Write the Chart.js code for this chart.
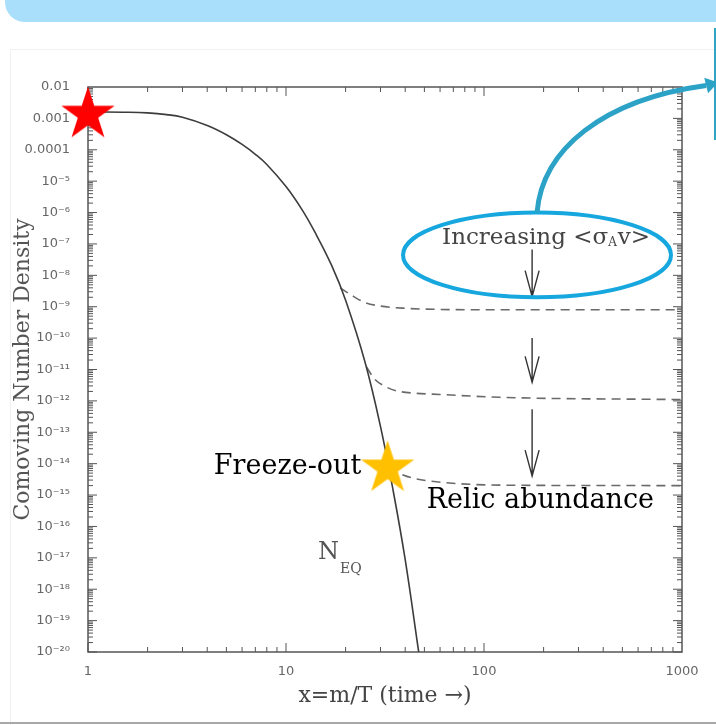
<!DOCTYPE html>
<html>
<head>
<meta charset="utf-8">
<script src="https://cdn.jsdelivr.net/npm/chart.js@4.4.0/dist/chart.umd.min.js"></script>
<style>
  html, body { margin: 0; padding: 0; background: #fff; }
  #wrap { position: relative; width: 716px; height: 725px; overflow: hidden; }
  .band { position: absolute; left: 5px; top: 0; width: 711px; height: 22px; background: #a9dffa; border-bottom-left-radius: 20px; }
  .card { position: absolute; left: 10px; top: 49px; width: 720px; height: 690px; border: 1px solid #f1f1f1; }
  .edge { position: absolute; left: 714px; top: 28px; width: 2px; height: 112px; background: #33a4c6; }
  .rule { position: absolute; left: 0; top: 722px; width: 716px; height: 2px; background: #a8a8a8; }
  canvas { position: absolute; left: 0; top: 0; }
</style>
</head>
<body>
<div id="wrap">
  <div class="band"></div>
  <div class="card"></div>
  <div class="edge"></div>
  <div class="rule"></div>
  <canvas id="myChart" width="716" height="725"></canvas>
</div>
<script>
// equilibrium curve
const eqX = [1, 1.5, 2, 2.5, 3, 4, 5, 6, 7, 8, 10, 12, 14, 17, 20, 25, 30, 35, 40, 46.8];
const eqY = [1.6e-3, 1.57e-3, 1.5e-3, 1.32e-3, 1.08e-3, 5.94e-4, 3.02e-4, 1.48e-4, 7.2e-5, 3.4e-5,
             6.76e-6, 1.29e-6, 2.37e-7, 2.07e-8, 1.61e-9, 1.83e-11, 1.54e-13, 1.1e-15, 8.7e-18, 1e-20];

// freeze-out branches, weakest to strongest annihilation
const relic1X = [18.8, 22, 25, 30, 40, 60, 100, 1000];
const relic1Y = [4e-9, 2.1e-9, 1.37e-9, 1.05e-9, 8.9e-10, 8.2e-10, 8e-10, 8e-10];
const relic2X = [25.5, 28, 32, 36, 45, 60, 120, 1000];
const relic2Y = [1.2e-11, 5e-12, 2.8e-12, 2.1e-12, 1.75e-12, 1.6e-12, 1.3e-12, 1.1e-12];
const relic3X = [33, 37, 45, 56, 85, 150, 1000];
const relic3Y = [7e-15, 5e-15, 3.3e-15, 2.7e-15, 2.2e-15, 2.05e-15, 2e-15];

// star markers
const starX = [1, 32.6];
const starY = [1.33e-3, 7.1e-15];

const xTicks = [1, 10, 100, 1000];
const xTickLabels = ['1', '10', '100', '1000'];
const yTicks = [1e-2, 1e-3, 1e-4, 1e-5, 1e-6, 1e-7, 1e-8, 1e-9, 1e-10, 1e-11, 1e-12,
                1e-13, 1e-14, 1e-15, 1e-16, 1e-17, 1e-18, 1e-19, 1e-20];
const yTickLabels = ['0.01', '0.001', '0.0001', '10⁻⁵', '10⁻⁶', '10⁻⁷', '10⁻⁸', '10⁻⁹', '10⁻¹⁰',
                     '10⁻¹¹', '10⁻¹²', '10⁻¹³', '10⁻¹⁴', '10⁻¹⁵', '10⁻¹⁶', '10⁻¹⁷', '10⁻¹⁸',
                     '10⁻¹⁹', '10⁻²⁰'];

const pts = (xs, ys) => xs.map((v, i) => ({x: v, y: ys[i]}));

function starImage(r, color) {
    const c = document.createElement('canvas');
    c.width = c.height = Math.ceil(2 * r + 2);
    const g = c.getContext('2d');
    const cx = c.width / 2, cy = c.height / 2;
    g.beginPath();
    for (let i = 0; i < 10; i++) {
        const rad = i % 2 ? r * 0.382 : r;
        const ang = -Math.PI / 2 + i * Math.PI / 5;
        g.lineTo(cx + rad * Math.cos(ang), cy + rad * Math.sin(ang));
    }
    g.closePath();
    g.fillStyle = color;
    g.fill();
    return c;
}

const serif = '"DejaVu Serif", "Liberation Serif", serif';

// frame with inward ticks on all four sides
const frame = {
    id: 'frame',
    beforeDatasetsDraw(chart) {
        const {ctx, chartArea: a, scales: {x, y}} = chart;
        ctx.save();
        ctx.strokeStyle = '#555';
        ctx.lineWidth = 1.5;
        ctx.strokeRect(a.left, a.top, a.right - a.left, a.bottom - a.top);
        ctx.lineWidth = 1;
        ctx.beginPath();
        for (let e = 0; e < 3; e++) {
            for (let k = 1; k < 10; k++) {
                const px = x.getPixelForValue(k * Math.pow(10, e));
                const len = k === 1 ? 9 : 5;
                ctx.moveTo(px, a.bottom); ctx.lineTo(px, a.bottom - len);
                ctx.moveTo(px, a.top); ctx.lineTo(px, a.top + len);
            }
        }
        for (let e = -20; e < -2; e++) {
            for (let k = 1; k < 10; k++) {
                const py = y.getPixelForValue(k * Math.pow(10, e));
                const len = k === 1 ? 9 : 5;
                ctx.moveTo(a.left, py); ctx.lineTo(a.left + len, py);
                ctx.moveTo(a.right, py); ctx.lineTo(a.right - len, py);
            }
        }
        ctx.stroke();
        ctx.restore();
    }
};

// labels, arrows and the highlight ring
const notes = {
    id: 'notes',
    afterDatasetsDraw(chart) {
        const {ctx, scales: {x, y}} = chart;
        const at = (xv, yv) => [x.getPixelForValue(xv), y.getPixelForValue(yv)];
        ctx.save();
        ctx.textBaseline = 'middle';

        // Increasing <σ_A v>
        let [tx, ty] = at(61.4, 1.6e-7);
        ctx.fillStyle = '#444';
        ctx.font = '23px ' + serif;
        ctx.fillText('Increasing <σ', tx, ty);
        tx += ctx.measureText('Increasing <σ').width;
        ctx.font = '12px ' + serif;
        ctx.fillText('A', tx, ty + 5);
        tx += ctx.measureText('A').width + 1;
        ctx.font = '23px ' + serif;
        ctx.fillText('v>', tx, ty);

        // down arrows
        ctx.strokeStyle = '#333';
        ctx.lineWidth = 1.4;
        [[175, 6.7e-8, 2.1e-9], [175, 1e-10, 3.9e-12], [175, 5.4e-13, 4e-15]].forEach(([xv, y0, y1]) => {
            const [px, top] = at(xv, y0);
            const bot = y.getPixelForValue(y1);
            ctx.beginPath();
            ctx.moveTo(px, top); ctx.lineTo(px, bot);
            ctx.moveTo(px - 7, bot - 26); ctx.lineTo(px, bot); ctx.lineTo(px + 7, bot - 26);
            ctx.stroke();
        });

        // N_EQ
        [tx, ty] = at(14.5, 1.5e-17);
        ctx.fillStyle = '#555';
        ctx.font = '24px ' + serif;
        ctx.fillText('N', tx, ty);
        tx += ctx.measureText('N').width + 1;
        ctx.font = '14px ' + serif;
        ctx.fillText('EQ', tx, ty + 17);

        // freeze-out / relic labels
        ctx.fillStyle = '#000';
        ctx.font = '27px ' + serif;
        ctx.textAlign = 'right';
        [tx, ty] = at(24, 8.1e-15);
        ctx.fillText('Freeze-out', tx, ty);
        ctx.textAlign = 'left';
        [tx, ty] = at(51.4, 6.3e-16);
        ctx.fillText('Relic abundance', tx, ty);

        // ring around the cross-section note
        const [l, t] = at(39, 1e-6);
        const [r, b] = at(880, 2e-9);
        const cx = (l + r) / 2;
        ctx.strokeStyle = '#17a7df';
        ctx.lineWidth = 4;
        ctx.beginPath();
        ctx.ellipse(cx, (t + b) / 2, (r - l) / 2, (b - t) / 2, 0, 0, Math.PI * 2);
        ctx.stroke();

        // pointer leaving the ring
        const p1 = at(197, 1.02e-4), p2 = at(397, 4e-3), p3 = at(1324, 0.0112), tip = at(1523, 0.0139);
        ctx.strokeStyle = ctx.fillStyle = '#2ba2c6';
        ctx.lineWidth = 5;
        ctx.beginPath();
        ctx.moveTo(cx, t);
        ctx.bezierCurveTo(p1[0], p1[1], p2[0], p2[1], p3[0], p3[1]);
        ctx.stroke();
        const ang = Math.atan2(tip[1] - p3[1], tip[0] - p3[0]);
        ctx.beginPath();
        ctx.moveTo(tip[0], tip[1]);
        ctx.lineTo(p3[0] + 8 * Math.sin(ang), p3[1] - 8 * Math.cos(ang));
        ctx.lineTo(p3[0] - 8 * Math.sin(ang), p3[1] + 8 * Math.cos(ang));
        ctx.closePath();
        ctx.fill();
        ctx.restore();
    }
};

const ctx = document.getElementById('myChart');

new Chart(ctx, {
    type: 'line',
    data: {
        datasets: [{
            data: pts(starX, starY),
            showLine: false,
            pointStyle: [starImage(28, '#ff0000'), starImage(28, '#ffc000')],
            pointRadius: 5,
            clip: false
        }, {
            data: pts(eqX, eqY),
            borderColor: '#3c3c3c',
            borderWidth: 1.6,
            pointRadius: 0,
            tension: 0.4
        }, {
            data: pts(relic1X, relic1Y),
            borderColor: '#6a6a6a',
            borderWidth: 1.6,
            borderDash: [9, 6],
            pointRadius: 0,
            cubicInterpolationMode: 'monotone'
        }, {
            data: pts(relic2X, relic2Y),
            borderColor: '#6a6a6a',
            borderWidth: 1.6,
            borderDash: [9, 6],
            pointRadius: 0,
            cubicInterpolationMode: 'monotone'
        }, {
            data: pts(relic3X, relic3Y),
            borderColor: '#6a6a6a',
            borderWidth: 1.6,
            borderDash: [9, 6],
            pointRadius: 0,
            cubicInterpolationMode: 'monotone'
        }]
    },
    options: {
        responsive: false,
        animation: false,
        devicePixelRatio: 1,
        layout: { padding: { left: 8, right: 34, top: 87, bottom: 10 } },
        plugins: { legend: { display: false }, tooltip: { enabled: false } },
        scales: {
            x: {
                type: 'logarithmic',
                min: 1,
                max: 1000,
                afterBuildTicks: (s) => { s.ticks = xTicks.map(v => ({value: v})); },
                afterFit: (s) => { s.height = 63; },
                grid: { display: false },
                border: { display: false },
                ticks: {
                    autoSkip: false,
                    maxRotation: 0,
                    padding: 4,
                    color: '#666',
                    font: { family: '"DejaVu Sans", sans-serif', size: 13 },
                    callback: (v, i) => xTickLabels[i]
                },
                title: {
                    display: true,
                    text: 'x=m/T (time →)',
                    color: '#444',
                    padding: { top: 0, bottom: 6 },
                    font: { family: serif, size: 22 }
                }
            },
            y: {
                type: 'logarithmic',
                min: 1e-20,
                max: 1e-2,
                afterBuildTicks: (s) => { s.ticks = yTicks.map(v => ({value: v})); },
                afterFit: (s) => { s.width = 80; },
                grid: { display: false },
                border: { display: false },
                ticks: {
                    autoSkip: false,
                    padding: 10,
                    color: '#666',
                    font: { family: '"DejaVu Sans", sans-serif', size: 13 },
                    callback: (v, i) => yTickLabels[i]
                },
                title: {
                    display: true,
                    text: 'Comoving Number Density',
                    color: '#555',
                    padding: { top: 2, bottom: 0 },
                    font: { family: serif, size: 22 }
                }
            }
        }
    },
    plugins: [frame, notes]
});
</script>
</body>
</html>
